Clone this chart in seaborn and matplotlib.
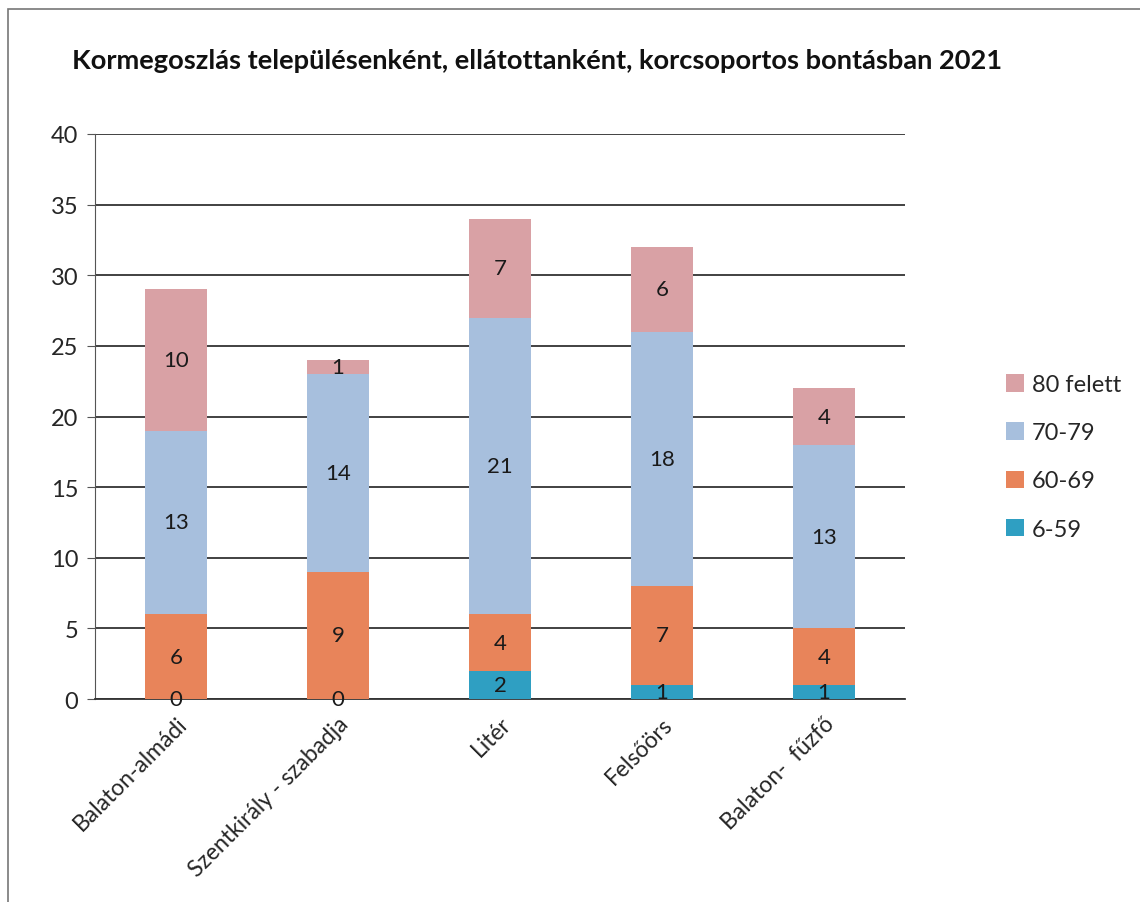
import matplotlib
matplotlib.use("Agg")
import matplotlib.pyplot as plt
from matplotlib.patches import Rectangle
import numpy as np
import pandas as pd
import seaborn as sns

# data
towns = ["Balaton-almádi", "Szentkirály - szabadja", "Litér", "Felsőörs", "Balaton-  fűzfő"]
age_groups = ["6-59", "60-69", "70-79", "80 felett"]
counts_6_59 = [0, 0, 2, 1, 1]
counts_60_69 = [6, 9, 4, 7, 4]
counts_70_79 = [13, 14, 21, 18, 13]
counts_80_plus = [10, 1, 7, 6, 4]
colors = ["#2f9fc2", "#e8845a", "#a7bfdd", "#d9a1a5"]
y_ticks = [0, 5, 10, 15, 20, 25, 30, 35, 40]

series = [counts_6_59, counts_60_69, counts_70_79, counts_80_plus]

sns.set_style("white")
plt.rcParams["font.family"] = ["Lato", "DejaVu Sans"]

fig = plt.figure(figsize=(11.4, 9.03), dpi=100)
ax = fig.add_axes([0.0833, 0.2248, 0.7105, 0.6257])

# stacked bars: draw cumulative totals from the top segment down
cumulative = np.cumsum(np.array(series), axis=0)
for i in reversed(range(len(series))):
    df = pd.DataFrame({"town": towns, "value": cumulative[i]})
    sns.barplot(data=df, x="town", y="value", color=colors[i], width=0.385,
                saturation=1, ax=ax, zorder=3, label=age_groups[i],
                linewidth=0, edgecolor="none")
if ax.get_legend() is not None:
    ax.get_legend().remove()

# segment labels
bottoms = np.vstack([np.zeros(len(towns)), cumulative[:-1]])
for i, vals in enumerate(series):
    for j, v in enumerate(vals):
        ax.text(j, bottoms[i][j] + v / 2, str(v), ha="center", va="center",
                fontsize=16, color="#1a1a1a", zorder=5)

ax.set_ylim(0, 40)
ax.set_xlim(-0.5, len(towns) - 0.5)
ax.set_yticks(y_ticks)
ax.yaxis.grid(True, color="#333333", linewidth=1.3, zorder=0)
ax.set_axisbelow(True)
ax.set_xlabel("")
ax.set_ylabel("")

for side in ["top", "right"]:
    ax.spines[side].set_visible(False)
ax.spines["left"].set_color("#555555")
ax.spines["bottom"].set_color("#333333")
ax.spines["bottom"].set_linewidth(1.3)

# ticks between categories on x, labels at centres
ax.set_xticks(np.arange(-0.5, len(towns)), minor=False)
ax.set_xticklabels([])
ax.set_xticks(np.arange(len(towns)), minor=True)
ax.set_xticklabels(towns, minor=True, rotation=45, ha="right",
                   rotation_mode="anchor", fontsize=16.5)
ax.tick_params(axis="x", which="major", direction="out", length=7, color="#333333")
ax.tick_params(axis="x", which="minor", length=0, pad=10)
ax.tick_params(axis="y", direction="out", length=6, color="#555555",
               labelsize=17, pad=6)
ax.tick_params(axis="y", left=True)

# legend, top segment first
handles, labels = ax.get_legend_handles_labels()
order = [labels.index(g) for g in reversed(age_groups)]
fig.legend([handles[k] for k in order], [labels[k] for k in order],
           loc="center left", bbox_to_anchor=(0.864, 0.493),
           frameon=False, fontsize=17, handlelength=0.75, handleheight=0.75,
           labelspacing=1.15, handletextpad=0.35)

fig.text(0.063, 0.932, "Kormegoszlás településenként, ellátottanként, korcsoportos bontásban 2021",
         fontsize=19.6, fontweight="bold", color="#111111", ha="left", va="center")

# chart area frame
fig.patches.append(Rectangle((0.007, -0.01), 1.05, 0.999, transform=fig.transFigure,
                             fill=False, edgecolor="#777777", linewidth=1.2))

fig.savefig("out.png", dpi=100)
